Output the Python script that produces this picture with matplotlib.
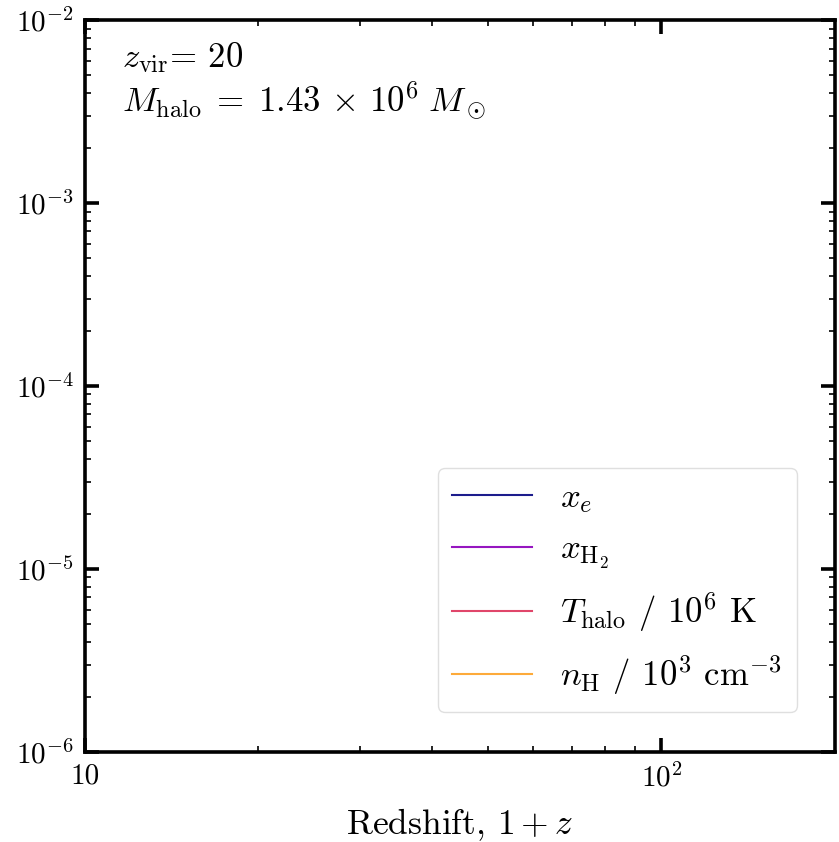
import matplotlib
matplotlib.use("Agg")
import matplotlib.pyplot as plt
from matplotlib.ticker import LogLocator, NullFormatter

plt.rcParams.update({
    "font.family": "serif",
    "font.serif": ["cmr10", "DejaVu Serif"],
    "mathtext.fontset": "cm",
    "axes.formatter.use_mathtext": True,
})

# Data (no curves visible in the reference plotting range)
redshift = []          # 1 + z
x_e = []
x_H2 = []
T_halo = []            # / 1e6 K
n_H = []               # / 1e3 cm^-3

labels = [r"$x_e$", r"$x_{\rm H_2}$", r"$T_{\rm halo}$ / $10^6$ K", r"$n_{\rm H}$ / $10^3$ cm$^{-3}$"]
colors = ["#1c1c8c", "#9616c0", "#e0466a", "#fdaa3a"]

fig = plt.figure(figsize=(8.39, 8.42), dpi=100)
ax = fig.add_axes([0.1013, 0.107, 0.8937, 0.869])

for y, lab, c in zip([x_e, x_H2, T_halo, n_H], labels, colors):
    ax.plot(redshift, y, color=c, lw=1.5, label=lab)

ax.set_xscale("log")
ax.set_yscale("log")
ax.set_xlim(10, 200)
ax.set_ylim(1e-6, 1e-2)

for s in ax.spines.values():
    s.set_linewidth(2.6)
ax.tick_params(which="both", direction="in", top=True, right=True)
ax.tick_params(which="major", length=10, width=2.6, labelsize=21, pad=8)
ax.tick_params(which="minor", length=4, width=1.2)
ax.yaxis.set_minor_locator(LogLocator(base=10, subs=range(2, 10), numticks=20))
ax.xaxis.set_minor_locator(LogLocator(base=10, subs=range(2, 10), numticks=20))
ax.xaxis.set_minor_formatter(NullFormatter())
ax.set_xticks([10, 100])
ax.set_xticklabels(["10", r"$10^2$"])

ax.set_xlabel(r"Redshift, $1+z$", fontsize=25.5, labelpad=10)

ax.text(0.05, 0.936, r"$z_{\rm vir}$= 20", transform=ax.transAxes,
        fontsize=25, va="baseline", ha="left")
ax.text(0.05, 0.874, r"$M_{\rm halo}\;=\;1.43\,\times\,10^6\;M_\odot$", transform=ax.transAxes,
        fontsize=25, va="baseline", ha="left")

leg = ax.legend(loc="lower right", bbox_to_anchor=(0.949, 0.055), borderaxespad=0,
                fontsize=25, handlelength=2.3, handletextpad=0.8, labelspacing=0.55,
                frameon=True, fancybox=True, borderpad=0.42)
leg.get_frame().set_edgecolor("#d8d8d8")
leg.get_frame().set_linewidth(1.0)

fig.savefig("out.png", dpi=100)
